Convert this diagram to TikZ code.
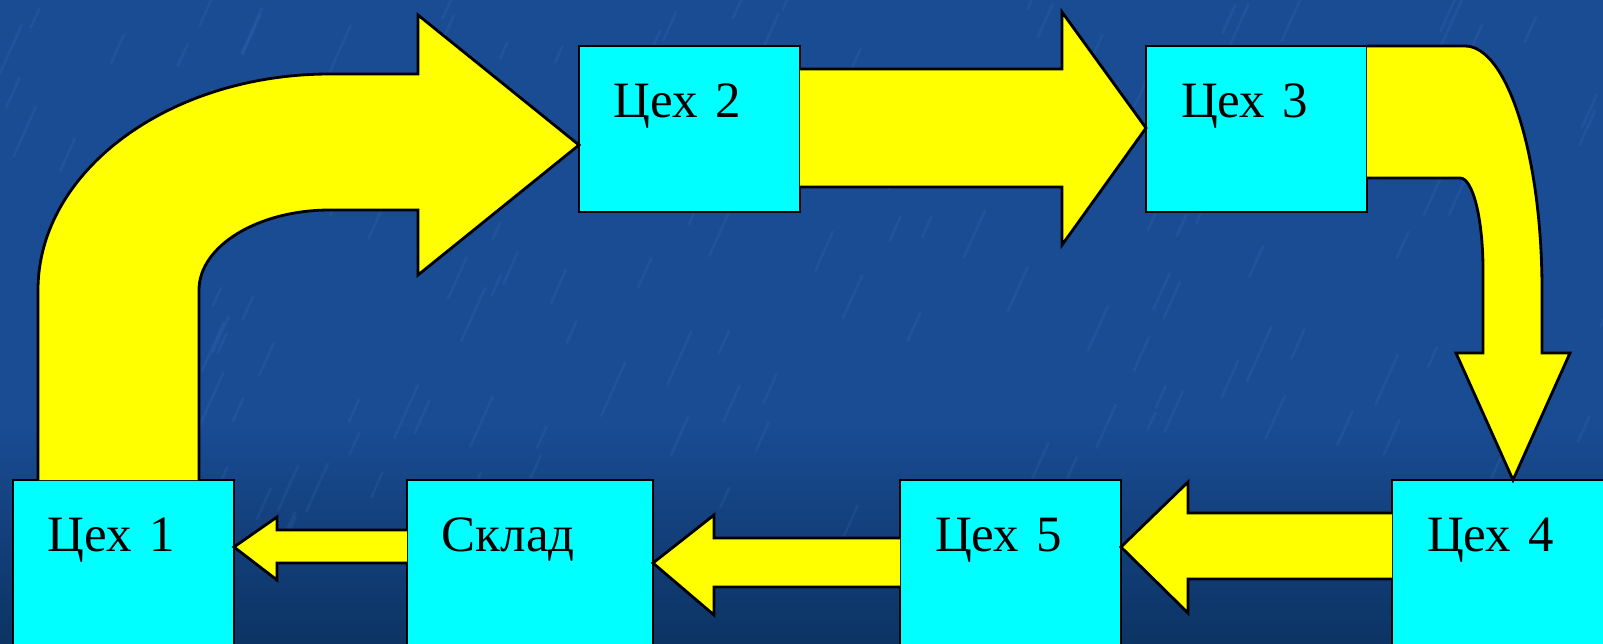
\documentclass[tikz,border=0pt]{standalone}
\usepackage{fontspec}
\setmainfont{Liberation Serif}
\definecolor{bgblue}{RGB}{26,76,148}
\definecolor{bgdark}{RGB}{12,52,100}
\definecolor{bgstreak}{RGB}{90,150,220}
\definecolor{boxcyan}{RGB}{0,255,255}
\definecolor{arryellow}{RGB}{255,255,0}

\begin{document}
\begin{tikzpicture}[x=0.02cm,y=-0.02cm,
    shop/.style={draw=black,line width=1.6pt,fill=boxcyan,anchor=north west,
      outer sep=0pt,inner xsep=0.7cm,inner ysep=0pt,text width=3.02cm,align=left,
      text height=1.44cm,text depth=1.88cm,font=\fontsize{29}{34}\selectfont},
    blockarrow/.style={draw=black,line width=1.6pt,fill=arryellow,line join=miter},
    streak/.style={draw=bgstreak,line width=1.5pt,line cap=round,opacity=0.10}]
        \clip (0,0) rectangle (1603,643);
        \fill[bgblue] (0,0) rectangle (1603,643);
        \shade[top color=bgblue,bottom color=bgdark] (0,420) rectangle (1603,643);
        \pgfmathsetseed{7}
        \foreach \i in {1,...,160}{
            \pgfmathsetmacro\sx{rnd*1603}
            \pgfmathsetmacro\sy{rnd*560}
            \pgfmathsetmacro\sl{15+rnd*40}
            \draw[streak] (\sx,\sy) -- ++(0.45*\sl,-\sl);
        }
        \node[shop] (c1) at (13,480) {Цех 1};
        \node[shop,text width=3.52cm] (sklad) at (407,480) {Склад};
        \node[shop] (c5) at (900,480) {Цех 5};
        \node[shop] (c4) at (1392,480) {Цех 4};
        \node[shop] (c2) at (579,46) {Цех 2};
        \node[shop] (c3) at (1146,46) {Цех 3};
        \draw[blockarrow] (38,0 |- c1.north) -- (38,290)
            .. controls (38,171) and (169,74) .. (330,74) -- (418,74) -- (418,15)
            -- (c2.west |- 0,145) -- (418,275) -- (418,210) -- (330,210)
            .. controls (258,210) and (199,246) .. (199,290) -- (199,0 |- c1.north);
        \draw[blockarrow] (c2.east |- 0,69) -- (1062,69) -- (1062,12)
            -- (c3.west |- 0,128) -- (1062,245) -- (1062,187) -- (c2.east |- 0,187);
        \draw[blockarrow] (c3.north east) -- (1465,46)
            .. controls (1507,46) and (1542,155) .. (1542,290) -- (1542,353) -- (1570,353)
            -- (1513,0 |- c4.north) -- (1456,353) -- (1483,353) -- (1483,270)
            .. controls (1483,219) and (1473,178) .. (1460,178) -- (c3.east |- 0,178);
        \draw[blockarrow] (c4.west |- 0,513) -- (1188,513) -- (1188,482)
            -- (c5.east |- 0,547) -- (1188,613) -- (1188,579) -- (c4.west |- 0,579);
        \draw[blockarrow] (c5.west |- 0,538) -- (714,538) -- (714,515)
            -- (sklad.east |- 0,563) -- (714,615) -- (714,587) -- (c5.west |- 0,587);
        \draw[blockarrow] (sklad.west |- 0,530) -- (277,530) -- (277,517)
            -- (c1.east |- 0,547) -- (277,580) -- (277,563) -- (sklad.west |- 0,563);
    \end{tikzpicture}
\end{document}
